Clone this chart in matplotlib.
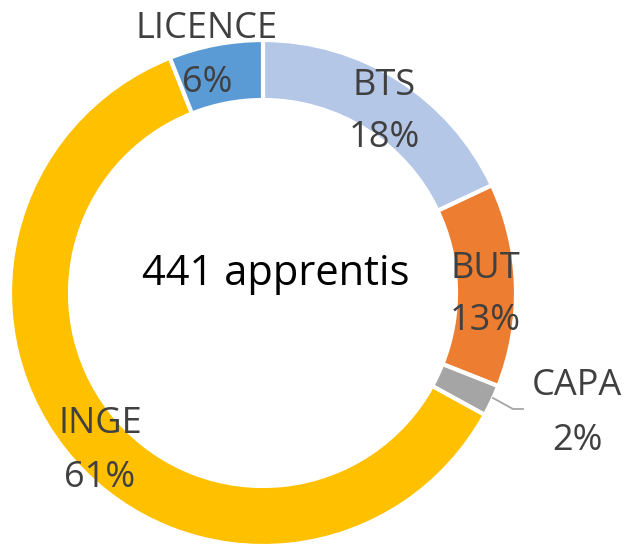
import matplotlib.pyplot as plt

# données
categories = ["BTS", "BUT", "CAPA", "INGE", "LICENCE"]
pourcentages = [18, 13, 2, 61, 6]
couleurs = ["#B4C7E7", "#ED7D31", "#A5A5A5", "#FFC000", "#5B9BD5"]
total_apprentis = 441

plt.rcParams["font.family"] = ["Open Sans", "DejaVu Sans"]

fig = plt.figure(figsize=(6.28, 5.48), dpi=100)
ax = fig.add_axes([0, 0, 1, 1])

H = 548
cx, cy, r = 263, H - 293, 253
ax.pie(pourcentages, colors=couleurs, startangle=90, counterclock=False,
       center=(cx, cy), radius=r, frame=True,
       wedgeprops=dict(width=60, edgecolor="white", linewidth=3))
ax.set_xlim(0, 628)
ax.set_ylim(0, 548)
ax.set_aspect("equal")
ax.axis("off")

# position des étiquettes : x centre, ligne de base nom, ligne de base %
pos = {"LICENCE": (207, 38, 92), "BTS": (384, 95, 147), "BUT": (485, 278, 330),
       "CAPA": (577, 395, 450), "INGE": (100, 433, 487)}
for cat, p in zip(categories, pourcentages):
    x, y1, y2 = pos[cat]
    ax.text(x, H - y1, cat, ha="center", va="baseline", fontsize=26, color="#404040")
    ax.text(x, H - y2, f"{p}%", ha="center", va="baseline", fontsize=26, color="#404040")

# ligne de rappel CAPA
ax.plot([493, 513, 523], [H - 398, H - 409, H - 409], color="#A5A5A5", lw=1.3)

ax.text(276, H - 285, f"{total_apprentis} apprentis", ha="center", va="baseline",
        fontsize=30, color="black")

fig.savefig("out.png", dpi=100)
